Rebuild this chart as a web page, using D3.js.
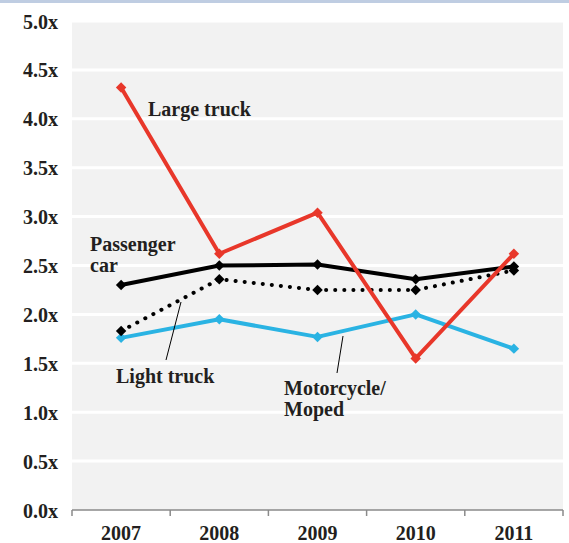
<!DOCTYPE html>
<html>
<head>
<meta charset="utf-8">
<script src="https://cdn.jsdelivr.net/npm/d3@7"></script>
<style>
  body { margin: 0; background: #fff; }
  svg { display: block; }
  .tick text { font-family: "Liberation Serif", "DejaVu Serif", serif; font-weight: bold; fill: #231f20; }
  .lbl { font-family: "Liberation Serif", "DejaVu Serif", serif; font-weight: bold; font-size: 20px; fill: #231f20; }
</style>
</head>
<body>
<script>
var years = ["2007", "2008", "2009", "2010", "2011"];
var yTicks = [0, 0.5, 1, 1.5, 2, 2.5, 3, 3.5, 4, 4.5, 5];

var largeTruck = [4.32, 2.62, 3.04, 1.55, 2.62];
var passengerCar = [2.30, 2.50, 2.51, 2.36, 2.49];
var lightTruck = [1.83, 2.36, 2.25, 2.25, 2.45];
var motorcycle = [1.76, 1.95, 1.77, 2.00, 1.65];

var width = 569, height = 543;
var margin = {top: 21, right: 6, bottom: 33, left: 72};

var svg = d3.select("body").append("svg")
    .attr("width", width)
    .attr("height", height);

// thin blue rule at the very top
svg.append("rect")
    .attr("x", 0).attr("y", 0)
    .attr("width", width).attr("height", 3)
    .attr("fill", "#bfcde2");

var x = d3.scaleBand()
    .domain(years)
    .range([margin.left, width - margin.right]);

var y = d3.scaleLinear()
    .domain([0, 5])
    .range([height - margin.bottom, margin.top]);

// plot background
svg.append("rect")
    .attr("x", margin.left)
    .attr("y", margin.top)
    .attr("width", width - margin.right - margin.left)
    .attr("height", y(0) - margin.top)
    .attr("fill", "#f2f2f2");

// white grid lines
svg.selectAll(".grid")
    .data(yTicks.slice(1))
    .enter()
    .append("line")
    .attr("class", "grid")
    .attr("x1", margin.left)
    .attr("x2", width - margin.right)
    .attr("y1", function(d){ return y(d); })
    .attr("y2", function(d){ return y(d); })
    .attr("stroke", "#fff")
    .attr("stroke-width", 3);

// y axis labels
var yAxis = svg.append("g")
    .attr("transform", "translate(" + (margin.left - 14) + ",0)")
    .call(d3.axisLeft(y).tickValues(yTicks).tickSize(0)
        .tickFormat(function(d){ return d3.format(".1f")(d) + "x"; }));
yAxis.select(".domain").remove();
yAxis.selectAll("text").attr("font-size", 20).attr("dy", "0.35em").attr("x", 0);

// x axis with bracket ticks at band edges
var xg = svg.append("g")
    .attr("transform", "translate(0," + y(0) + ")");
xg.append("line")
    .attr("x1", margin.left).attr("x2", width - margin.right)
    .attr("y1", 0).attr("y2", 0)
    .attr("stroke", "#8a8a8a").attr("stroke-width", 1.5);
var edges = years.map(function(d){ return x(d); }).concat([x(years[years.length - 1]) + x.bandwidth()]);
xg.selectAll(".edge")
    .data(edges)
    .enter()
    .append("line")
    .attr("x1", function(d){ return d; })
    .attr("x2", function(d){ return d; })
    .attr("y1", 0).attr("y2", 6)
    .attr("stroke", "#8a8a8a").attr("stroke-width", 1.5);
xg.selectAll(".yr")
    .data(years)
    .enter()
    .append("text")
    .attr("class", "lbl")
    .attr("x", function(d){ return x(d) + x.bandwidth() / 2; })
    .attr("y", 30)
    .attr("text-anchor", "middle")
    .text(function(d){ return d; });

var cx = function(d, i){ return x(years[i]) + x.bandwidth() / 2; };

var line = d3.line()
    .x(cx)
    .y(function(d){ return y(d); });

var diamond = d3.symbol().type(d3.symbolDiamond2).size(70);

function drawSeries(values, color, dashed){
    svg.append("path")
        .datum(values)
        .attr("fill", "none")
        .attr("stroke", color)
        .attr("stroke-width", 4)
        .attr("stroke-linejoin", "round")
        .attr("stroke-linecap", dashed ? "round" : "butt")
        .attr("stroke-dasharray", dashed ? "0.1 9" : null)
        .attr("d", line);
    svg.selectAll(null)
        .data(values)
        .enter()
        .append("path")
        .attr("d", diamond)
        .attr("fill", color)
        .attr("transform", function(d, i){
            return "translate(" + cx(d, i) + "," + y(d) + ")";
        });
}

drawSeries(motorcycle, "#2ab3e3", false);
drawSeries(lightTruck, "#000", true);
drawSeries(passengerCar, "#000", false);
drawSeries(largeTruck, "#e8372a", false);

// labels
svg.append("text").attr("class", "lbl").attr("x", 148).attr("y", 116).text("Large truck");
svg.append("text").attr("class", "lbl").attr("x", 90).attr("y", 251).text("Passenger");
svg.append("text").attr("class", "lbl").attr("x", 90).attr("y", 272).text("car");
svg.append("text").attr("class", "lbl").attr("x", 116).attr("y", 383).text("Light truck");
svg.append("text").attr("class", "lbl").attr("x", 284).attr("y", 395).text("Motorcycle/");
svg.append("text").attr("class", "lbl").attr("x", 284).attr("y", 416).text("Moped");

// leader lines
svg.append("line")
    .attr("x1", 166).attr("y1", 360)
    .attr("x2", 181).attr("y2", 302)
    .attr("stroke", "#000").attr("stroke-width", 1);
svg.append("line")
    .attr("x1", 337).attr("y1", 373)
    .attr("x2", 343).attr("y2", 336)
    .attr("stroke", "#000").attr("stroke-width", 1);
</script>
</body>
</html>
